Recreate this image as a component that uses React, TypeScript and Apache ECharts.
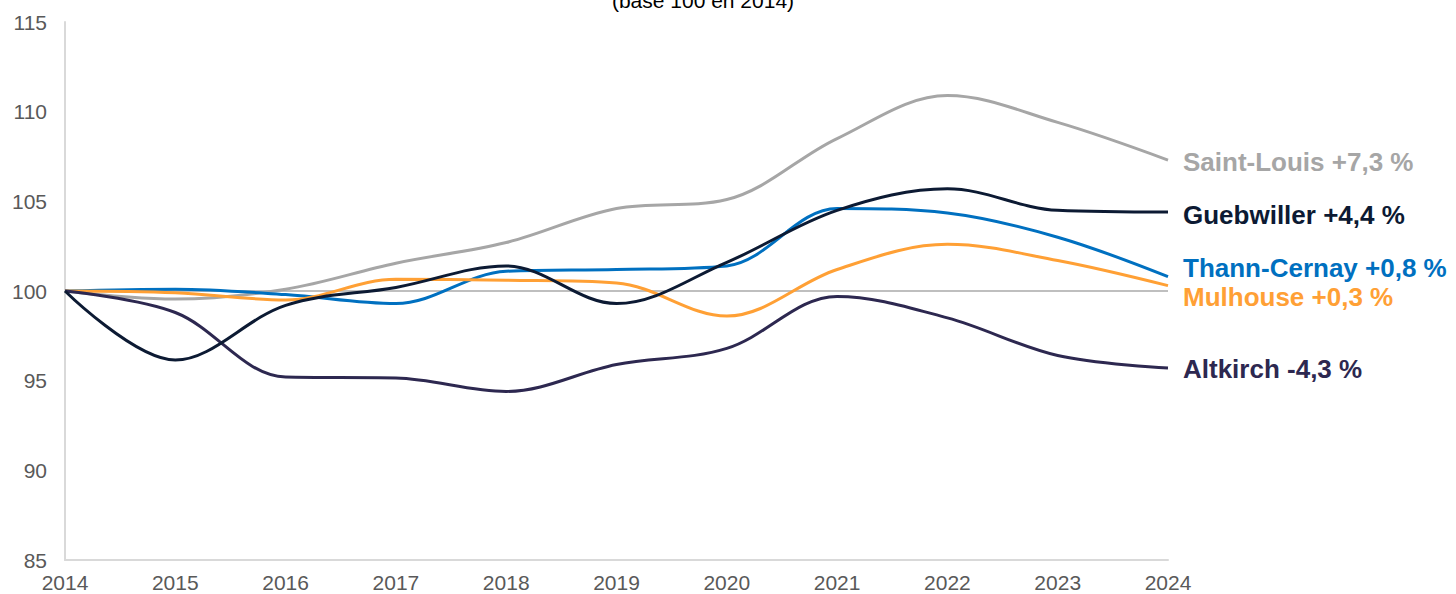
import React, { useEffect, useRef } from "react";
import * as echarts from "echarts";

const years = ["2014", "2015", "2016", "2017", "2018", "2019", "2020", "2021", "2022", "2023", "2024"];
const saintLouis = [100, 99.55, 100.1, 101.55, 102.7, 104.6, 105.1, 108.5, 110.9, 109.4, 107.3];
const guebwiller = [100, 96.15, 99.2, 100.2, 101.4, 99.3, 101.6, 104.5, 105.7, 104.5, 104.4];
const thannCernay = [100, 100.1, 99.8, 99.3, 101.1, 101.2, 101.4, 104.6, 104.35, 103.0, 100.8];
const mulhouse = [100, 99.9, 99.5, 100.65, 100.6, 100.45, 98.6, 101.2, 102.6, 101.7, 100.3];
const altkirch = [100, 98.8, 95.2, 95.15, 94.4, 95.9, 96.8, 99.7, 98.5, 96.4, 95.7];
const seriesNames = ["Saint-Louis", "Guebwiller", "Thann-Cernay", "Mulhouse", "Altkirch"];
const changeLabels = ["+7,3 %", "+4,4 %", "+0,8 %", "+0,3 %", "-4,3 %"];
const yTicks = [85, 90, 95, 100, 105, 110, 115];

const colors = ["#a6a6a6", "#0c1a33", "#0070c0", "#ffa035", "#2d2850"];
const labelOffsets = [[0, 2], [0, 3], [0, -9], [0, 11], [0, 1]];
const FONT = "Liberation Sans, Arial, sans-serif";

export default function App() {
  const ref = useRef<HTMLDivElement>(null);
  useEffect(() => {
    document.body.style.margin = "0";
    if (!ref.current) return;
    const chart = echarts.init(ref.current, null, { renderer: "svg" });
    const datas = [saintLouis, guebwiller, thannCernay, mulhouse, altkirch];
    const order = [0, 2, 3, 4, 1];
    const series: any[] = order.map((i) => ({
      name: seriesNames[i],
      type: "line",
      data: datas[i],
      smooth: 0.35,
      symbol: "none",
      lineStyle: { color: colors[i], width: 3 },
      itemStyle: { color: colors[i] },
      z: 3,
      endLabel: {
        show: true,
        formatter: () => seriesNames[i] + " " + changeLabels[i],
        color: colors[i],
        fontSize: 26,
        fontWeight: "bold",
        fontFamily: FONT,
        distance: 15,
        offset: labelOffsets[i],
      },
    }));
    series[0].markLine = {
      silent: true,
      symbol: "none",
      label: { show: false },
      lineStyle: { color: "#bfbfbf", width: 2, type: "solid" },
      data: [{ yAxis: 100 }],
      z: 1,
    };
    chart.setOption({
      animation: false,
      title: {
        text: "(base 100 en 2014)",
        left: 698,
        textAlign: "center",
        top: -15,
        textStyle: { fontSize: 21, fontWeight: "normal", color: "#000", fontFamily: FONT },
      },
      grid: { left: 65, right: 288, top: 22, bottom: 34 },
      xAxis: {
        type: "category",
        data: years,
        boundaryGap: false,
        axisLine: { lineStyle: { color: "#d9d9d9", width: 2 } },
        axisTick: { show: false },
        axisLabel: { color: "#595959", fontSize: 21, margin: 12, fontFamily: FONT },
        splitLine: { show: false },
      },
      yAxis: {
        type: "value",
        min: yTicks[0],
        max: yTicks[yTicks.length - 1],
        interval: 5,
        axisLine: { show: true, lineStyle: { color: "#d9d9d9", width: 2 } },
        axisTick: { show: false },
        axisLabel: { color: "#595959", fontSize: 21, margin: 18, fontFamily: FONT },
        splitLine: { show: false },
      },
      series,
    });
    return () => chart.dispose();
  }, []);
  return <div ref={ref} style={{ width: 1456, height: 594 }} />;
}
